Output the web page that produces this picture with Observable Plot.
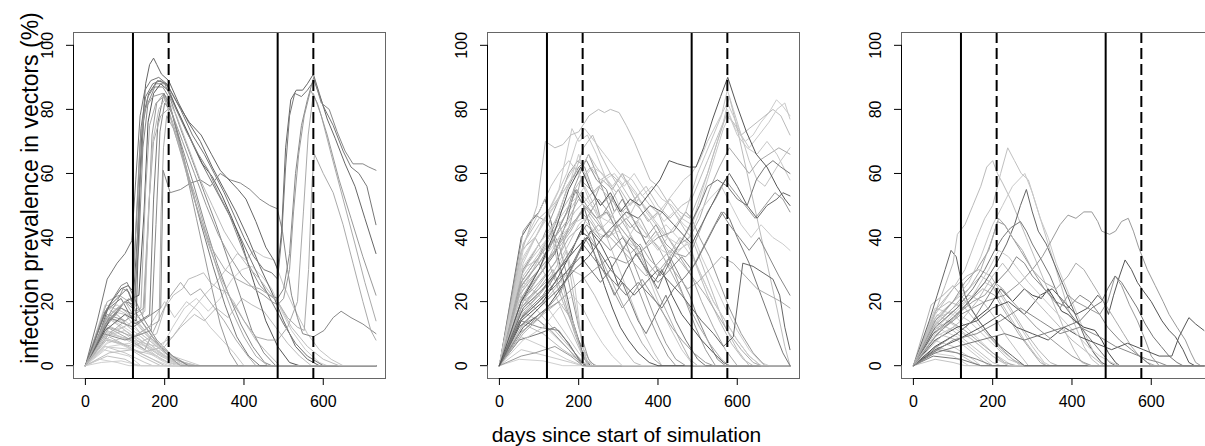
<!DOCTYPE html>
<html><head><meta charset="utf-8">
<script src="https://cdn.jsdelivr.net/npm/d3@7"></script>
<script src="https://cdn.jsdelivr.net/npm/@observablehq/plot@0.6"></script>
<style>
body{margin:0;background:#fff;overflow:hidden}
#wrap{position:relative;width:1205px;height:446px;overflow:hidden;font-family:"Liberation Sans",Arial,sans-serif}
#wrap svg{position:absolute;top:0}
</style></head><body><div id="wrap"></div>
<script>
// ---- axes / reference lines ----
const xTicks = [0, 200, 400, 600];
const yTicks = [0, 20, 40, 60, 80, 100];
const solidDays = [120, 485];
const dashedDays = [210, 575];
const xLabel = "days since start of simulation";
const yLabel = "infection prevalence in vectors (%)";

// ---- panel 1 series (day:value) ----
const panel1Series = [
"0:0 50:19 90:17 120:15 160:9 220:3 290:0 733:0",
"0:0 55:18 100:14 150:9 200:4 260:0 733:0",
"0:0 45:16 90:12 140:7 190:3 240:0 733:0",
"0:0 60:15 110:11 170:5 230:0 733:0",
"0:0 50:13 100:10 150:5 210:1 250:0 733:0",
"0:0 55:11 120:7 180:3 220:0 733:0",
"0:0 40:9 90:7 140:3 190:0 733:0",
"0:0 60:8 120:5 170:2 210:0 733:0",
"0:0 50:6 100:4 150:1 170:0 733:0",
"0:0 45:5 110:3 140:0 733:0",
"0:0 55:3 100:2 130:0 733:0",
"0:0 35:2 80:1 110:0 733:0",
"0:0 50:14 80:16 110:12 150:8 200:3 270:0 733:0",
"0:0 65:17 100:16 140:10 200:4 250:0 733:0",
"0:0 50:10 90:12 130:8 180:4 230:1 260:0 733:0",
"0:0 55:7 100:9 150:6 190:2 230:0 733:0",
"0:0 45:12 70:17 100:20 130:14 170:8 220:2 280:0 733:0",
"0:0 60:4 120:5 170:2 200:0 733:0",
"0:0 40:1 90:1.5 140:0 733:0",
"0:0 55:20 85:22 110:20 140:14 180:7 230:2 260:0 733:0",
"0:0 50:17 80:19 110:16 150:10 200:4 250:1 280:0 733:0",
"0:0 55:15 90:14 130:10 180:5 230:1 250:0 733:0",
"0:0 45:9 100:11 150:7 200:3 240:0 733:0",
"0:0 60:6 110:7 160:4 200:1 220:0 733:0",
"0:0 45:15 70:21 90:25 105:26 120:22 150:14 180:8 220:3 260:0 733:0",
"0:0 50:14 80:20 95:24 110:23 130:16 170:9 210:3 240:0 733:0",
"0:0 50:8 120:6 180:10 200:18 222:22 245:24 260:27 280:28 298:29 315:26 335:24 355:23 374:20 400:14 430:8 459:4 490:0 733:0",
"0:0 55:10 120:8 180:6 220:9 260:16 300:22 330:26 360:31 383:35 405:33 425:36 450:34 476:33 500:25 530:17 560:10 590:5 620:2 650:0 733:0",
"0:0 45:6 120:5 180:3 220:12 250:18 280:21 310:17 340:21 370:27 395:30 420:31 445:28 470:24 495:17 520:11 555:5 590:1 610:0 733:0",
"0:0 60:9 140:4 200:6 240:12 275:16 300:14 330:18 360:15 395:21 420:19 450:17 480:12 510:7 540:3 570:0 733:0",
"0:0 50:11 110:8 160:12 200:20 225:15 255:20 285:17 315:12 345:8 375:4 400:0 733:0",
"0:0 55:12 100:9 150:5 210:21 240:26 265:22 290:24 320:19 350:14 380:8 410:3 430:0 733:0",
"0:0 30:8 60:19 90:24 108:25 122:23 132:42 142:72 152:88 162:94 172:96 180:94 192:91 210:89 235:82 260:76 290:70 320:62 350:55 380:48 410:40 440:31 470:23 500:14 530:6 560:2 590:0 733:0",
"0:0 30:14 55:27 80:32 100:35 117:39 127:58 138:78 150:86 165:89 185:90 205:88 230:80 260:72 290:64 320:57 350:50 380:43 410:35 440:27 470:20 500:13 530:7 560:3 600:0 733:0",
"0:0 50:12 90:18 120:16 135:38 145:68 158:82 175:87 195:87 215:83 240:74 270:64 300:54 330:44 360:33 390:22 420:11 450:4 480:0 733:0",
"0:0 60:14 100:20 135:22 148:48 158:76 172:85 190:88 208:86 235:79 265:71 295:63 320:59 345:53 370:46 395:38 425:26 455:14 485:6 515:1 540:0 733:0",
"0:0 55:16 100:14 148:18 158:42 168:72 180:82 198:85 220:78 250:63 280:46 310:29 340:13 365:4 385:0 733:0",
"0:0 50:17 90:21 125:13 162:16 172:52 183:76 198:85 212:82 238:70 262:58 292:44 322:31 352:19 382:9 412:3 440:0 733:0",
"0:0 45:10 100:8 166:11 178:44 188:73 200:82 218:79 242:69 272:57 302:44 332:32 362:22 392:13 422:6 452:1 470:0 733:0",
"0:0 60:12 120:9 186:14 191:48 197:68 205:78 222:74 250:63 280:52 310:39 340:27 370:17 400:9 430:3 460:0 733:0",
"0:0 60:15 120:12 190:18 196:61 214:54 240:55 265:57 290:58 315:56 340:60 365:58 391:57 415:55 440:52 465:50 484:49 497:42 510:30 520:22 535:15 548:10 575:9 602:11 625:15 645:17 670:15 700:13 733:10",
"0:0 50:11 100:16 128:14 138:58 148:79 160:85 182:89 205:88 232:82 262:76 292:72 318:66 340:61 362:58 385:55 405:52 430:45 455:37 475:33 485:30 495:42 505:68 518:83 532:86 548:86 560:88 575:91 590:85 610:77 630:71 655:63 680:56 705:46 733:35",
"0:0 55:18 105:24 118:20 130:48 140:74 152:84 170:88 190:89 210:87 240:80 270:72 300:66 325:60 350:54 375:47 400:40 425:34 450:30 470:29 485:27 495:40 505:62 515:78 528:85 545:84 560:86 577:89 600:81 625:75 650:67 670:62 690:60 710:56 733:44",
"0:0 50:13 100:20 125:19 135:52 146:76 158:84 178:88 200:88 225:81 255:73 285:66 310:61 335:54 360:48 385:40 410:32 440:25 465:22 485:21 500:24 515:35 530:60 545:75 560:83 576:90 595:82 615:80 635:73 655:67 675:63 700:63 715:62 733:61",
"0:0 60:10 110:15 140:18 152:55 162:75 178:82 198:84 220:76 250:64 280:50 310:38 340:28 370:20 400:14 430:9 460:8 485:8 510:12 535:20 550:48 562:72 575:85 595:78 620:66 650:52 680:38 705:26 733:14",
"0:0 45:12 100:20 118:18 128:45 138:70 150:80 170:84 195:85 215:80 245:70 275:60 305:50 335:41 365:34 395:28 425:24 450:22 470:20 485:19 500:21 515:30 525:48 538:66 552:78 568:86 585:82 610:72 640:58 670:46 700:34 733:22",
"0:0 55:15 110:21 145:16 160:50 172:70 190:78 208:80 232:70 262:57 292:45 322:36 352:30 382:27 412:25 440:24 465:22 485:20 510:15 535:12 552:11 563:30 572:58 578:66 600:60 625:54 650:44 675:32 700:20 720:11 733:8",
"0:0 50:9 110:13 150:17 160:50 170:70 185:80 205:84 230:78 260:68 290:58 320:50 350:42 380:36 410:31 440:27 470:22 485:20 520:12 560:6 600:2 640:0 733:0"
];
const panel1Shades = [
"#c8c8c8","#cfcfcf","#bdbdbd","#d0d0d0","#c4c4c4","#cacaca","#bfbfbf","#d2d2d2","#c6c6c6","#cdcdcd",
"#c0c0c0","#d0d0d0","#b8b8b8","#c2c2c2","#cccccc","#c9c9c9","#b5b5b5","#bdbdbd","#cfcfcf","#aaaaaa",
"#c0c0c0","#cdcdcd","#c5c5c5","#d0d0d0",
"#888888","#999999","#bbbbbb","#c4c4c4","#cccccc","#bbbbbb","#c8c8c8","#aaaaaa",
"#666666","#777777","#888888","#555555","#999999","#7a7a7a","#8a8a8a","#aaaaaa","#888888","#666666",
"#777777","#888888","#aaaaaa","#999999","#aaaaaa","#bbbbbb"
];

// ---- panel 2 series ----
const panel2Series = [
"0:0 55:5 120:3 180:1 210:0 733:0",
"0:0 55:9 110:6 170:2 210:0 733:0",
"0:0 60:13 110:10 160:5 210:1 230:0 733:0",
"0:0 55:17 100:14 150:8 200:2 225:0 733:0",
"0:0 50:22 90:18 140:11 190:4 220:0 733:0",
"0:0 60:26 100:22 150:13 200:4 230:0 733:0",
"0:0 55:30 95:33 130:25 170:14 210:3 235:0 733:0",
"0:0 50:2 110:1.5 160:0 733:0",
"0:0 45:12 90:15 130:11 175:5 210:0 733:0",
"0:0 55:36 90:40 125:32 160:20 200:8 230:1 245:0 733:0",
"0:0 60:20 100:24 135:30 160:22 190:10 215:2 230:0 733:0",
"0:0 55:14 100:12 150:11 190:4 215:0 733:0",
"0:0 50:8 100:10 140:12 175:7 205:1 220:0 733:0",
"0:0 55:3 90:4 140:6 180:3 210:0 733:0",
"0:0 60:28 100:35 130:42 150:30 180:15 210:4 230:0 733:0",
"0:0 55:40 80:45 100:48 115:52 130:45 155:30 185:14 215:2 230:0 733:0",
"0:0 60:42 90:47 120:45 150:38 175:26 200:12 225:2 240:0 733:0",
"0:0 55:25 85:30 120:38 150:45 170:35 190:20 210:6 225:0 733:0",
"0:0 50:18 100:22 140:28 170:36 190:25 205:10 220:0 733:0",
"0:0 60:10 110:16 150:20 185:14 210:3 225:0 733:0",
"0:0 55:20 100:26 140:32 175:40 210:44 240:38 270:30 300:22 330:14 360:7 390:2 410:0 733:0",
"0:0 60:30 110:38 150:44 185:50 215:56 240:50 265:42 290:34 315:26 340:18 365:10 390:4 410:0 733:0",
"0:0 50:16 100:22 150:30 190:38 220:46 250:52 275:48 300:40 325:32 350:24 375:16 400:9 425:3 445:0 733:0",
"0:0 55:12 100:18 140:24 180:30 210:28 240:22 265:16 290:10 315:5 340:1 360:0 733:0",
"0:0 60:8 110:12 150:18 185:22 210:18 235:12 260:7 285:3 310:0 733:0",
"0:0 55:24 100:30 145:36 180:42 215:50 245:46 275:40 305:46 335:40 365:32 395:24 425:16 455:8 480:2 500:0 733:0",
"0:0 55:14 110:20 150:28 180:35 205:42 226:40 245:33 265:25 285:18 305:12 325:8 350:4 378:1 400:0 733:0",
"0:0 50:20 100:30 140:40 170:48 190:56 210:62 225:66 245:60 270:52 295:44 320:38 345:30 370:22 395:14 420:7 445:2 470:0 733:0",
"0:0 60:32 110:45 150:55 183:74 200:70 222:72 245:66 270:58 295:52 320:44 345:36 375:28 400:20 430:12 460:5 490:0 733:0",
"0:0 55:35 95:50 116:70 140:68 160:69 180:72 200:73 226:78 250:80 265:79 280:80 302:79 320:75 340:70 360:64 380:58 400:56 420:52 445:47 470:42 485:40 510:32 540:22 570:12 600:5 630:0 733:0",
"0:0 60:30 110:40 150:52 175:60 198:64 215:62 235:55 255:46 275:50 300:55 320:50 345:44 370:38 395:42 420:36 445:28 470:20 495:12 520:5 545:0 733:0",
"0:0 55:20 100:28 140:35 170:45 190:55 212:50 230:43 250:35 270:28 290:22 310:26 330:20 350:14 370:10 395:16 420:22 445:14 470:8 500:2 520:0 733:0",
"0:0 60:22 110:30 150:38 180:44 210:48 240:52 260:58 285:55 310:60 330:55 350:50 375:45 400:48 425:40 450:35 475:30 485:28 510:20 540:12 570:5 600:0 733:0",
"0:0 55:26 100:34 140:44 170:55 200:62 220:64 245:58 270:55 290:48 310:52 330:47 355:42 380:35 405:28 430:34 455:28 480:22 500:15 525:8 550:2 570:0 733:0",
"0:0 50:15 100:22 140:30 175:38 200:44 225:47 250:42 275:45 300:50 325:46 350:52 375:48 400:44 425:40 450:36 475:38 485:35 510:28 540:20 570:14 600:8 630:3 660:0 733:0",
"0:0 60:12 120:18 160:25 200:35 230:42 255:38 280:32 300:25 320:30 345:35 370:30 390:26 410:30 435:22 460:16 485:12 510:8 540:4 565:1 580:0 733:0",
"0:0 55:18 105:26 150:34 180:45 205:58 230:55 255:50 280:53 305:47 330:43 355:46 380:40 405:36 430:30 455:24 480:18 505:12 530:7 560:2 580:0 733:0",
"0:0 60:38 100:46 135:50 165:55 190:60 212:68 235:72 255:66 280:60 305:57 330:52 355:49 380:45 405:40 430:35 455:40 480:38 500:30 525:22 555:14 585:7 615:2 640:0 733:0",
"0:0 50:10 100:15 150:22 190:32 215:40 235:36 260:30 285:24 310:18 335:22 360:27 385:22 410:17 435:12 460:8 490:4 520:1 540:0 733:0",
"0:0 60:24 110:36 150:48 180:58 200:66 215:60 240:54 265:58 290:60 315:56 340:60 365:55 390:50 415:45 440:48 465:44 485:42 510:34 540:26 570:18 600:11 630:5 660:1 680:0 733:0",
"0:0 60:20 110:30 150:40 190:48 220:52 250:56 280:52 310:48 340:52 370:56 400:50 430:46 460:50 485:52 505:58 525:64 545:70 565:76 580:84 600:74 625:60 650:46 675:32 700:18 720:6 733:0",
"0:0 55:10 100:16 150:20 200:26 240:30 280:34 320:32 360:36 400:40 440:42 470:48 485:46 505:40 530:34 555:26 580:18 610:10 640:4 670:0 733:0",
"0:0 60:26 100:32 140:38 180:44 210:46 240:42 270:40 300:42 330:38 360:36 390:40 420:44 450:40 485:34 510:28 540:20 570:14 600:8 630:3 660:0 733:0",
"0:0 55:18 100:24 150:30 190:36 220:40 250:44 280:40 310:36 340:32 370:28 400:32 430:36 460:32 485:28 520:22 550:16 580:10 610:5 640:1 660:0 733:0",
"0:0 50:14 100:20 150:26 185:32 210:38 235:34 260:30 290:26 320:22 350:26 380:22 410:18 440:24 470:28 495:32 520:38 545:44 565:48 580:46 600:40 630:32 660:22 690:12 715:4 733:0",
"0:0 60:38 100:48 130:56 150:60 175:64 200:60 225:66 245:62 270:58 295:54 320:58 345:54 370:48 395:44 420:40 445:44 470:48 485:54 500:60 520:66 540:72 560:78 575:86 590:80 610:72 630:64 650:58 670:56 690:60 710:64 733:68",
"0:0 60:34 110:44 150:52 180:58 200:60 225:52 250:46 275:48 300:44 325:40 350:45 375:40 400:36 425:40 450:38 475:42 485:44 505:52 530:62 555:72 575:80 595:74 620:70 640:72 660:76 680:79 699:83 715:81 733:78",
"0:0 55:28 100:38 140:45 175:52 205:58 230:62 255:58 280:60 305:55 330:50 355:54 380:50 405:47 430:52 455:48 480:46 500:52 525:60 550:70 572:78 590:76 610:72 630:74 650:76 670:78 690:80 710:78 733:72",
"0:0 50:22 100:30 140:36 175:42 205:48 230:45 255:40 280:42 305:38 330:35 355:38 380:33 405:30 430:34 455:38 480:40 505:46 530:55 555:62 580:68 605:64 630:60 655:64 680:66 705:68 733:66",
"0:0 55:32 100:42 140:52 170:60 195:70 215:74 240:70 265:66 290:62 315:58 340:54 365:50 390:46 415:50 440:54 465:58 485:60 505:64 525:70 550:76 575:82 590:78 610:72 630:68 655:72 680:76 700:80 720:82 733:77",
"0:0 60:36 100:44 140:50 170:58 190:62 210:58 235:62 260:60 285:56 310:60 335:58 360:53 385:56 410:52 435:50 460:46 485:44 505:50 525:58 545:66 565:74 580:78 600:72 625:68 650:66 675:70 700:66 733:58",
"0:0 50:24 100:32 140:40 170:48 195:55 220:50 245:46 270:48 295:43 320:46 345:42 370:40 395:44 420:38 445:35 470:34 485:36 505:42 525:48 545:52 570:58 595:54 620:50 645:46 670:50 695:54 715:52 733:48",
"0:0 55:30 100:38 140:44 175:50 205:54 230:50 260:46 290:44 320:48 350:44 380:40 410:36 440:34 470:38 485:42 505:48 530:52 560:56 585:50 610:44 635:40 660:44 690:40 715:38 733:36",
"0:0 55:26 100:34 140:40 175:46 200:52 225:48 250:44 275:40 300:44 325:40 350:36 375:32 400:28 425:32 450:28 475:24 500:26 530:30 560:34 590:32 620:28 650:24 680:22 710:20 733:18",
"0:0 60:16 110:22 150:30 190:38 220:44 250:40 280:36 310:40 340:36 370:30 400:26 430:30 460:34 485:30 510:36 535:42 560:48 580:44 605:40 630:36 655:40 680:34 705:28 733:22",
"0:0 60:18 110:24 150:30 190:36 220:40 250:36 280:30 310:26 340:22 370:26 400:30 430:26 460:22 485:18 510:14 540:10 565:6 590:9 614:32 640:31 665:29 690:27 707:22 720:12 733:5",
"0:0 55:15 100:20 140:26 175:30 205:34 230:30 255:26 280:30 305:35 330:40 355:37 380:28 400:24 420:30 445:36 465:40 485:45 505:50 525:56 550:58 575:56 600:52 625:50 648:58 670:62 690:64 710:62 733:60",
"0:0 50:12 100:18 150:24 190:30 225:34 260:40 290:44 320:48 350:46 380:50 410:48 440:44 470:40 485:38 510:44 535:50 560:56 580:60 600:56 625:50 650:46 675:50 700:52 715:54 733:53",
"0:0 55:20 100:30 140:42 175:55 205:62 230:55 255:50 280:54 305:48 330:52 355:50 380:54 405:58 428:64 450:63 479:62 496:62 515:68 538:77 558:84 576:90 597:82 623:73 648:66 675:62 700:56 720:52 733:50"
];
const panel2Shades = [
"#c8c8c8","#cccccc","#bbbbbb","#c4c4c4","#c0c0c0","#c8c8c8","#bcbcbc","#d0d0d0","#999999","#b0b0b0",
"#aaaaaa","#888888","#777777","#999999","#c0c0c0","#666666","#999999","#bbbbbb","#c6c6c6","#b5b5b5",
"#aaaaaa","#c4c4c4","#999999","#bbbbbb","#cccccc","#b0b0b0",
"#555555","#999999","#c8c8c8","#bbbbbb","#999999","#777777","#aaaaaa","#888888","#c0c0c0","#555555",
"#aaaaaa","#bbbbbb","#999999","#cccccc","#bbbbbb","#999999","#cccccc","#aaaaaa","#777777","#c4c4c4",
"#cccccc","#bbbbbb","#aaaaaa","#c8c8c8","#c8c8c8","#999999","#cccccc","#aaaaaa","#888888","#666666",
"#777777","#666666","#555555"
];

// ---- panel 3 series ----
const panel3Series = [
"0:0 55:18 100:16 150:10 200:4 250:0 733:0",
"0:0 60:16 110:12 160:7 210:2 240:0 733:0",
"0:0 50:14 100:11 150:6 200:1 220:0 733:0",
"0:0 55:12 110:9 160:4 200:0 733:0",
"0:0 60:10 110:8 160:3 190:0 733:0",
"0:0 50:8 100:6 150:2 170:0 733:0",
"0:0 55:6 110:4 150:1 170:0 733:0",
"0:0 45:4 100:3 140:0 733:0",
"0:0 55:2 100:1 130:0 733:0",
"0:0 60:5 110:4 160:2 200:0 733:0",
"0:0 50:3 120:2 170:0 733:0",
"0:0 55:17 90:20 130:18 170:12 220:5 270:0 733:0",
"0:0 60:15 100:17 140:14 190:8 240:2 280:0 733:0",
"0:0 50:11 90:14 130:11 180:6 230:1 260:0 733:0",
"0:0 55:9 100:12 150:8 200:3 240:0 733:0",
"0:0 45:19 75:22 100:25 120:22 160:15 200:8 250:2 280:0 733:0",
"0:0 55:15 100:20 140:24 170:28 195:26 220:20 250:14 280:8 310:3 335:0 733:0",
"0:0 60:12 110:18 150:22 180:26 210:24 240:18 270:12 300:6 330:1 345:0 733:0",
"0:0 50:10 100:14 140:20 175:24 205:22 235:16 265:10 295:5 320:1 335:0 733:0",
"0:0 55:13 100:18 140:22 175:20 205:15 235:9 265:4 290:0 733:0",
"0:0 60:18 100:24 135:28 165:30 195:28 225:22 255:16 285:10 315:5 345:1 365:0 733:0",
"0:0 40:14 60:22 80:30 95:36 108:34 118:28 130:22 145:18 165:14 190:10 220:6 250:3 280:0 733:0",
"0:0 50:15 80:25 100:32 111:41 130:44 150:50 170:56 185:62 200:64 212:60 225:57 245:52 265:46 285:40 305:34 325:28 345:22 365:16 385:10 405:5 425:1 445:0 733:0",
"0:0 55:16 100:24 130:30 160:40 180:46 200:50 220:60 238:68 255:64 272:60 290:58 310:50 330:42 350:34 370:26 390:18 410:12 430:6 450:2 470:0 733:0",
"0:0 60:14 100:20 140:26 170:34 200:44 225:50 250:56 281:60 300:54 320:46 340:40 360:32 380:26 400:20 420:14 440:8 460:3 480:0 733:0",
"0:0 50:10 100:15 140:20 180:26 210:32 235:38 255:44 270:50 285:55 300:48 315:42 335:38 355:32 375:26 395:20 415:14 435:8 455:4 475:1 490:0 733:0",
"0:0 60:10 120:16 180:20 230:22 270:26 300:30 325:34 348:39 370:44 390:47 410:46 430:48 450:48 465:45 475:42 495:41 510:42 525:45 542:46 555:42 568:37 590:30 610:25 630:20 645:16 665:12 686:8 700:4 712:1 725:0 733:0",
"0:0 55:8 110:12 160:14 200:18 240:20 280:16 320:22 350:24 380:20 410:16 440:18 465:22 480:20 492:16 505:22 520:28 534:33 550:30 565:26 576:24 600:20 627:14 645:11 661:9 680:5 695:1 710:0 733:0",
"0:0 55:12 110:18 150:24 180:30 205:36 225:40 245:43 270:45 285:42 300:38 323:33 345:28 365:22 385:18 410:14 435:10 455:7 475:4 495:1 510:0 733:0",
"0:0 55:6 110:10 150:14 190:18 220:24 250:20 280:24 300:22 323:21 340:24 360:20 374:17 390:16 407:14 430:12 458:11 475:8 492:4 510:1 520:0 733:0",
"0:0 55:14 100:20 130:26 160:30 190:36 212:45 230:44 250:40 270:36 290:32 310:28 330:24 350:21 370:18 390:22 410:20 440:18 470:16 490:20 509:28 525:25 545:19 565:14 585:8 600:3 620:0 733:0",
"0:0 50:12 100:18 140:24 170:30 200:40 215:46 230:44 250:40 275:36 300:30 330:26 360:24 390:28 410:32 430:30 450:26 470:22 490:18 510:14 530:10 550:6 570:3 590:1 610:0 733:0",
"0:0 60:6 110:10 150:14 180:20 210:26 240:30 260:34 280:32 300:28 330:24 360:20 390:18 420:22 445:20 470:16 490:12 520:8 550:5 580:2 600:0 733:0",
"0:0 55:5 110:8 170:12 220:16 260:12 300:10 340:8 380:12 420:9 460:7 500:5 540:7 580:5 620:3 652:3 670:9 695:15 712:13 733:11",
"0:0 55:10 100:16 150:22 190:30 215:36 240:34 265:30 290:26 320:22 350:18 380:14 410:10 440:6 470:3 500:1 520:0 733:0",
"0:0 60:8 120:14 160:20 200:28 225:32 250:28 280:24 310:20 340:16 370:12 400:8 430:5 460:2 480:0 733:0",
"0:0 55:9 110:16 150:20 180:22 205:26 225:24 250:20 280:16 310:12 340:9 370:6 400:3 430:1 450:0 733:0",
"0:0 55:4 110:6 170:8 230:10 280:8 330:10 380:12 420:14 450:18 475:20 490:24 509:28 525:26 545:22 565:18 585:13 605:9 625:6 645:3 665:1 680:0 733:0",
"0:0 50:4 100:8 160:10 220:14 270:18 320:14 370:10 420:12 470:9 510:6 550:4 590:2 620:1 640:0 733:0"
];
const panel3Shades = [
"#c8c8c8","#cccccc","#c0c0c0","#cfcfcf","#c6c6c6","#cacaca","#bdbdbd","#d0d0d0","#c4c4c4","#888888",
"#777777","#bbbbbb","#c2c2c2","#aaaaaa","#c8c8c8","#b0b0b0",
"#bbbbbb","#c8c8c8","#aaaaaa","#c0c0c0","#b5b5b5",
"#666666","#bbbbbb","#c0c0c0","#c8c8c8",
"#666666","#999999","#555555","#777777","#444444","#999999","#aaaaaa","#888888","#555555","#c8c8c8",
"#bbbbbb","#999999","#777777","#888888"
];

// ---- drawing ----
const xDomain = [-30, 757];
const yDomain = [-4, 104];
const FONT = '"Liberation Sans", Arial, Helvetica, sans-serif';

function parseSeries(list, shades) {
  return list.flatMap((s, i) => s.trim().split(/\s+/).map(p => {
    const [d, v] = p.split(":").map(Number);
    return {day: d, value: v, id: i, shade: shades[i]};
  }));
}

function panel(series, shades, left) {
  const data = parseSeries(series, shades);
  const svg = Plot.plot({
    width: 400, height: 446,
    marginLeft: 73, marginRight: 15, marginTop: 32, marginBottom: 68,
    x: {domain: xDomain},
    y: {domain: yDomain},
    color: {type: "identity"},
    style: {fontFamily: FONT, fontSize: "16px", color: "#000", background: "transparent", overflow: "visible"},
    marks: [
      Plot.line(data, {x: "day", y: "value", z: "id", stroke: "shade", strokeWidth: 1}),
      Plot.ruleX(solidDays, {stroke: "#000", strokeWidth: 2}),
      Plot.ruleX(dashedDays, {stroke: "#000", strokeWidth: 2, strokeDasharray: "11,5"}),
      Plot.frame({stroke: "#666"}),
      Plot.ruleY([yDomain[0]], {x1: () => xTicks[0], x2: () => xTicks[xTicks.length - 1], stroke: "#000"}),
      Plot.ruleX([xDomain[0]], {y1: () => yTicks[0], y2: () => yTicks[yTicks.length - 1], stroke: "#000"}),
      Plot.axisX({ticks: xTicks, tickSize: 7, tickPadding: 10, label: null, fontSize: 16}),
      Plot.axisY({ticks: yTicks, tickSize: 7, tickPadding: 14, tickRotate: -90, label: null, fontSize: 16})
    ]
  });
  svg.style.left = left + "px";
  document.getElementById("wrap").appendChild(svg);
}

panel(panel1Series, panel1Shades, 0);
panel(panel2Series, panel2Shades, 414);
panel(panel3Series, panel3Shades, 828);

// axis titles
const over = d3.select("#wrap").append("svg")
  .attr("width", 1205).attr("height", 446).style("left", "0px")
  .style("font-family", FONT);
over.append("text").attr("x", 626.5).attr("y", 441.5).attr("text-anchor", "middle")
  .attr("font-size", 21).attr("fill", "#000").text(xLabel);
over.append("text").attr("transform", "translate(37.5,188) rotate(-90)").attr("text-anchor", "middle")
  .attr("font-size", 23).attr("fill", "#000").text(yLabel);
</script>
</body></html>
